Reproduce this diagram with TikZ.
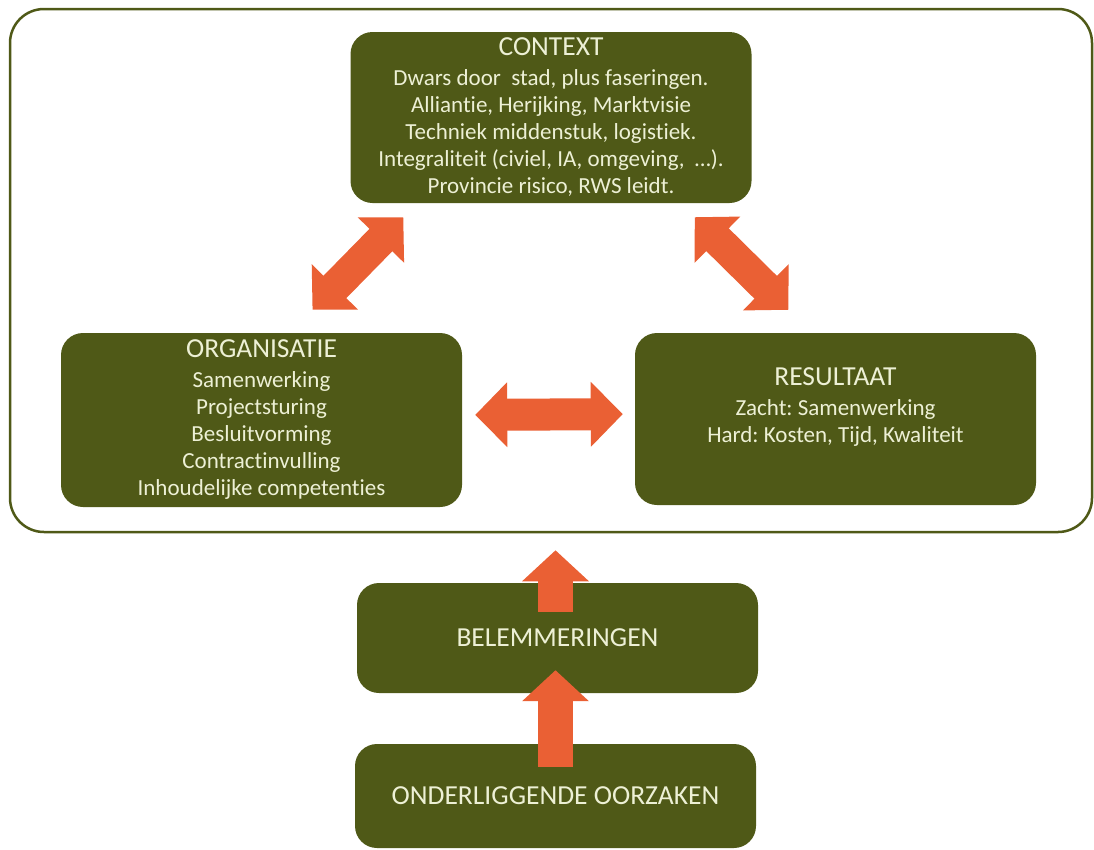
\documentclass[tikz,border=0pt]{standalone}
\usepackage{fontspec}
\setmainfont{Carlito}[Ligatures=NoCommon]
\usetikzlibrary{arrows.meta,calc}
\definecolor{olijf}{RGB}{79,89,23}
\definecolor{tekst}{RGB}{237,240,213}
\definecolor{oranje}{RGB}{234,96,52}
\frenchspacing
\newcommand{\kop}[1]{{\fontsize{27.5}{33}\selectfont #1}}
\tikzset{
  bloktekst/.style={text=tekst, align=center, font=\fontsize{23}{27}\selectfont},
  blok/.style={bloktekst, fill=olijf, rounded corners=22pt, minimum width=401pt, inner sep=0pt},
  pijl/.style={draw=oranje, line width=32pt, {Triangle[length=32pt,width=63pt]}-{Triangle[length=32pt,width=63pt]}},
  pijlop/.style={draw=oranje, line width=35pt, -{Triangle[length=31pt,width=65pt]}},
}
\begin{document}
\begin{tikzpicture}[x=1pt,y=-1pt]
\useasboundingbox (0,0) rectangle (1094,849);
\node[draw=olijf, line width=2.5pt, rounded corners=34pt, minimum width=1082pt, minimum height=523pt] (kader) at (551,270.5) {};
\node[blok, minimum height=171pt] (context) at (551,117.5) {\kop{CONTEXT}\\[3pt]Dwars door~ stad, plus faseringen.\\Alliantie, Herijking, Marktvisie\\Techniek middenstuk, logistiek.\\Integraliteit (civiel, IA, omgeving, ~…).\\Provincie risico, RWS leidt.};
\node[blok, minimum height=174pt] (organisatie) at (261.5,420) {\kop{ORGANISATIE}\\[3pt]Samenwerking\\Projectsturing\\Besluitvorming\\Contractinvulling\\Inhoudelijke competenties};
\node[blok, minimum height=172pt] (resultaat) at (835.5,419) {};
\node[bloktekst] (resultaattekst) at ($(resultaat.center)+(0,-12)$) {\kop{RESULTAAT}\\[3pt]Zacht: Samenwerking\\Hard: Kosten, Tijd, Kwaliteit};
\node[blok, minimum height=110pt] (belemmeringen) at (557.5,638) {\kop{BELEMMERINGEN}};
\node[blok, minimum height=104pt] (oorzaken) at (555.5,796) {\kop{ONDERLIGGENDE OORZAKEN}};
\coordinate (ctxlinks) at ($(context.south west)+(53,14)$);
\coordinate (orgboven) at ($(organisatie.north)+(51,-23)$);
\coordinate (ctxrechts) at ($(context.south east)+(-57,14)$);
\coordinate (resboven) at ($(resultaat.north)+(-47,-23)$);
\draw[pijl] (orgboven) -- (ctxlinks);
\draw[pijl] (ctxrechts) -- (resboven);
\draw[pijl, shorten <=13pt, shorten >=12pt] ([yshift=5pt]organisatie.east) -- ([yshift=5pt]resultaat.west);
\draw[pijlop, shorten <=-29pt, shorten >=17pt] ([xshift=-2pt]belemmeringen.north) -- ([xshift=-2pt]belemmeringen.north |- kader.south);
\draw[pijlop, shorten <=-23pt, shorten >=-23pt] (oorzaken.north) -- (oorzaken.north |- belemmeringen.south);
\end{tikzpicture}
\end{document}
